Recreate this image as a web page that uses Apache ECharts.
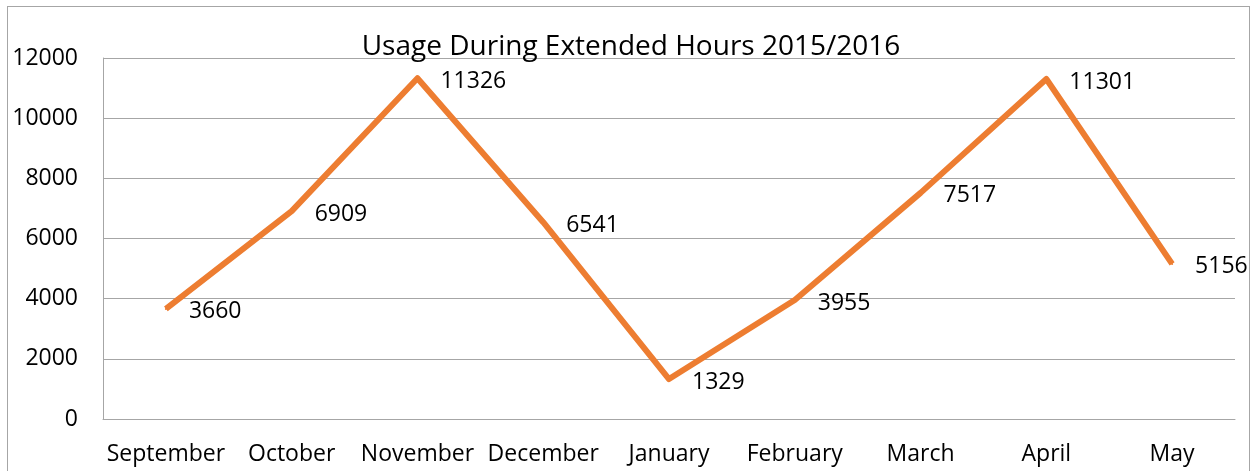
<!DOCTYPE html>
<html>
<head>
<meta charset="utf-8">
<script src="https://cdn.jsdelivr.net/npm/echarts@6/dist/echarts.min.js"></script>
<style>
  html, body { margin: 0; padding: 0; background: #fff; }
  #chart { width: 1255px; height: 471px; }
  .frame { position: absolute; left: 7px; top: 6px; width: 1243px; height: 470px; border: 1px solid #a6a6a6; border-bottom: none; box-sizing: border-box; pointer-events: none; }
</style>
</head>
<body>
<div id="chart"></div>
<div class="frame"></div>
<script>
  // 数据
  var months = ['September', 'October', 'November', 'December', 'January', 'February', 'March', 'April', 'May']
  var usage = [3660, 6909, 11326, 6541, 1329, 3955, 7517, 11301, 5156]
  var chartTitle = 'Usage During Extended Hours 2015/2016'

  var font = 'Open Sans'
  var option = {
    animation: false,
    title: {
      text: chartTitle,
      left: 626,
      textAlign: 'center',
      top: 28,
      textStyle: { fontFamily: font, fontSize: 28, fontWeight: 'normal', color: '#000' }
    },
    grid: { left: 103, right: 20, top: 58, bottom: 52 },
    xAxis: {
      type: 'category',
      data: months,
      axisLine: { lineStyle: { color: '#a6a6a6', width: 1 } },
      axisTick: { show: false },
      axisLabel: { color: '#000', fontFamily: font, fontSize: 23, margin: 24, interval: 0 }
    },
    yAxis: {
      type: 'value',
      min: 0,
      max: 12000,
      interval: 2000,
      axisLine: { show: true, lineStyle: { color: '#a6a6a6', width: 1 } },
      axisTick: { show: false },
      splitLine: { lineStyle: { color: '#a6a6a6', width: 1 } },
      axisLabel: { color: '#000', fontFamily: font, fontSize: 23, margin: 25, formatter: function (v) { return String(v) } }
    },
    series: [
      {
        type: 'line',
        data: usage,
        showSymbol: true,
        symbol: 'circle',
        symbolSize: 2,
        itemStyle: { color: '#ED7D31' },
        lineStyle: { color: '#ED7D31', width: 6, join: 'round' },
        label: {
          show: true,
          position: 'right',
          distance: 22,
          offset: [0, 3],
          color: '#000',
          fontFamily: font,
          fontSize: 23
        }
      }
    ]
  }
  var chart = echarts.init(document.getElementById('chart'))
  chart.setOption(option)
</script>
</body>
</html>
